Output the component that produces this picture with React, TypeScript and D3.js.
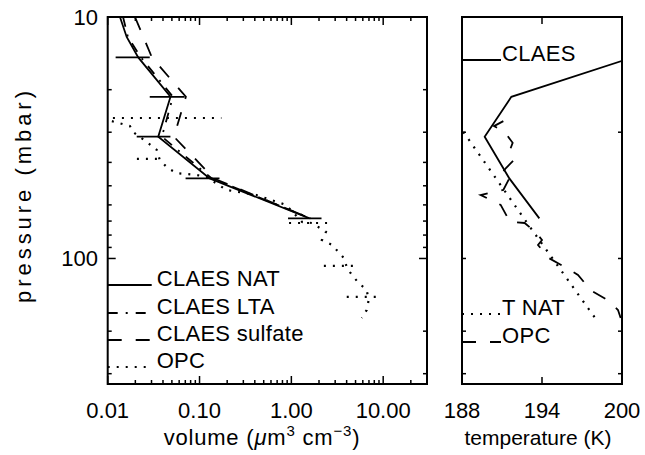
import React from "react";
import * as d3 from "d3";

// CLAES retrievals, pressure levels in mbar
const claesP = [10, 12.1, 14.7, 21.4, 31.3, 46.6, 68.2];
const natVol = [0.0136, 0.0161, 0.0215, 0.0483, 0.0355, 0.129, 1.58];
const ltaVol = [0.0147, 0.0166, 0.023, 0.0513, 0.0389, 0.136, 1.62];
const sulfateVol = [0.0198, 0.0245, 0.0303, 0.071, 0.0526, 0.143, 1.6];

// NAT error bars
const barP = [14.7, 21.4, 31.3, 46.6, 68.2];
const barLo = [0.0122, 0.0287, 0.0207, 0.0705, 0.92];
const barHi = [0.0287, 0.0687, 0.0482, 0.165, 2.13];

// OPC profile
const opcP = [27.0, 28.3, 29.9, 33.2, 35.5, 39.1, 42.2, 44.3, 45.1, 46.0, 52.0, 54.6, 60.0, 70.6, 71.3, 77.6, 83.8, 87.9, 99.5, 108.4, 117, 126.3, 135, 148.5, 163.4, 176.4];
const opcVol = [0.0111, 0.0175, 0.0188, 0.0274, 0.0342, 0.0369, 0.045, 0.0563, 0.0928, 0.119, 0.196, 0.415, 0.876, 1.31, 1.68, 2.38, 2.15, 2.77, 3.72, 4.01, 4.55, 5.41, 6.61, 6.95, 6.61, 5.85];
const opcT = [191.1, 190.4, 191.2, 191.8, 191.6, 191.9, 191.3, 191.0, 191.2, 191.6, 191.1, 189.4, 190.9, 191.6, 192.7, 193.5, 194.0, 193.7, 194.5, 195.7, 196.7, 197.2, 197.6, 198.9, 199.7, 199.9];
const opcBarP = [26.2, 38.7, 71.3, 107.4, 144.2];
const opcBarLo = [0.0114, 0.0208, 0.944, 2.26, 4.01];
const opcBarHi = [0.173, 0.0388, 2.76, 5.15, 9.38];

// temperatures
const claesTP = [14.7, 21.4, 31.3, 46.6, 68.2];
const claesT = [200.8, 191.7, 189.7, 191.55, 193.8];
const tnatP = [29.9, 71.5, 176.9];
const tnatT = [188.1, 192.9, 198.0];

const volTicks = [0.01, 0.1, 1, 10];
const volLabels = ["0.01", "0.10", "1.00", "10.00"];
const tTicks = [188, 194, 200];
const pLabels = [10, 100];

const leftLegend = ["CLAES NAT", "CLAES LTA", "CLAES sulfate", "OPC"];
const rightLegend = ["CLAES", "T NAT", "OPC"];

const FONT = "'Liberation Sans', Arial, Helvetica, sans-serif";
const DOT = "2,7";
const DASH = "14,14";
const DASHDOT = "10,8,2,8";

const left = { x0: 107.7, x1: 427, y0: 17, y1: 384 };
const right = { x0: 462, x1: 622, y0: 17, y1: 384 };

export default function App() {
  const y = d3.scaleLog().domain([10, 331]).range([left.y0, left.y1]);
  const x = d3.scaleLog().domain([0.01, 30]).range([left.x0, left.x1]);
  const t = d3.scaleLinear().domain([188, 200]).range([right.x0, right.x1]);

  const lineV = d3.line<[number, number]>().x((d) => x(d[0])).y((d) => y(d[1]));
  const lineT = d3.line<[number, number]>().x((d) => t(d[0])).y((d) => y(d[1]));
  const zip = (a: number[], b: number[]) => a.map((v, i) => [v, b[i]] as [number, number]);

  // minor log ticks
  const xMinor: number[] = [];
  [0.01, 0.1, 1, 10].forEach((d) => {
    for (let k = 2; k <= 9; k++) if (d * k <= 30) xMinor.push(d * k);
  });
  const pMinor: number[] = [];
  [10, 100].forEach((d) => {
    for (let k = 2; k <= 9; k++) if (d * k <= 331) pMinor.push(d * k);
  });

  const curves = [
    { v: natVol, dash: null },
    { v: ltaVol, dash: DASHDOT },
    { v: sulfateVol, dash: DASH },
  ];

  const legendY = [285, 313, 340, 367];
  const legendDash = [null, DASHDOT, DASH, DOT];
  const rLegendY = [60, 314, 342];
  const rLegendDash = [null, DOT, DASH];

  return (
    <svg width={645} height={455} style={{ position: "absolute", left: 0, top: 0, background: "#fff" }} fontFamily={FONT}>
      <defs>
        <clipPath id="clipL"><rect x={left.x0} y={left.y0} width={left.x1 - left.x0} height={left.y1 - left.y0} /></clipPath>
        <clipPath id="clipR"><rect x={right.x0} y={right.y0} width={right.x1 - right.x0} height={right.y1 - right.y0} /></clipPath>
      </defs>

      {/* left panel */}
      <g stroke="#000" fill="none">
        <rect x={left.x0} y={left.y0} width={left.x1 - left.x0} height={left.y1 - left.y0} strokeWidth={2} />
        {volTicks.map((v) => (
          <g key={"xm" + v}>
            <line x1={x(v)} x2={x(v)} y1={left.y1} y2={left.y1 - 8} strokeWidth={1.5} />
            <line x1={x(v)} x2={x(v)} y1={left.y0} y2={left.y0 + 8} strokeWidth={1.5} />
          </g>
        ))}
        {xMinor.map((v) => (
          <g key={"xn" + v}>
            <line x1={x(v)} x2={x(v)} y1={left.y1} y2={left.y1 - 4} strokeWidth={1.5} />
            <line x1={x(v)} x2={x(v)} y1={left.y0} y2={left.y0 + 4} strokeWidth={1.5} />
          </g>
        ))}
        {pMinor.map((p) => (
          <g key={"pn" + p}>
            <line x1={left.x0} x2={left.x0 + 4} y1={y(p)} y2={y(p)} strokeWidth={1.5} />
            <line x1={left.x1} x2={left.x1 - 4} y1={y(p)} y2={y(p)} strokeWidth={1.5} />
          </g>
        ))}
        <line x1={left.x0} x2={left.x0 + 8} y1={y(100)} y2={y(100)} strokeWidth={1.5} />
        <line x1={left.x1} x2={left.x1 - 8} y1={y(100)} y2={y(100)} strokeWidth={1.5} />

        <g clipPath="url(#clipL)" strokeWidth={1.8}>
          {curves.map((c, i) => (
            <path key={i} d={lineV(zip(c.v, claesP)) || ""} strokeDasharray={c.dash || undefined} />
          ))}
          {barP.map((p, i) => (
            <line key={"b" + i} x1={x(barLo[i])} x2={x(barHi[i])} y1={y(p)} y2={y(p)} />
          ))}
          <path d={lineV(zip(opcVol, opcP)) || ""} strokeDasharray={DOT} strokeWidth={2.2} />
          {opcBarP.map((p, i) => (
            <line key={"ob" + i} x1={x(opcBarLo[i])} x2={x(opcBarHi[i])} y1={y(p)} y2={y(p)} strokeDasharray={DOT} strokeWidth={2.2} />
          ))}
          {leftLegend.map((_, i) => (
            <line key={"ll" + i} x1={left.x0} x2={left.x0 + 44} y1={legendY[i]} y2={legendY[i]} strokeDasharray={legendDash[i] || undefined} strokeWidth={legendDash[i] === DOT ? 2.2 : 1.8} />
          ))}
        </g>
      </g>

      {/* right panel */}
      <g stroke="#000" fill="none">
        <rect x={right.x0} y={right.y0} width={right.x1 - right.x0} height={right.y1 - right.y0} strokeWidth={2} />
        <line x1={t(194)} x2={t(194)} y1={right.y0} y2={right.y0 + 7} strokeWidth={1.5} />
        <line x1={t(194)} x2={t(194)} y1={right.y1} y2={right.y1 - 7} strokeWidth={1.5} />
        {[30, 100, 200, 300].map((p) => (
          <g key={"rp" + p}>
            <line x1={right.x0} x2={right.x0 + 4} y1={y(p)} y2={y(p)} strokeWidth={1.5} />
            <line x1={right.x1} x2={right.x1 - 4} y1={y(p)} y2={y(p)} strokeWidth={1.5} />
          </g>
        ))}
        <g clipPath="url(#clipR)" strokeWidth={1.8}>
          <path d={lineT(zip(claesT, claesTP)) || ""} />
          <path d={lineT(zip(tnatT, tnatP)) || ""} strokeDasharray={DOT} strokeWidth={2.2} />
          <path d={lineT(zip(opcT, opcP)) || ""} strokeDasharray={DASH} />
          {rightLegend.map((_, i) => (
            <line key={"rl" + i} x1={right.x0} x2={right.x0 + 39} y1={rLegendY[i]} y2={rLegendY[i]} strokeDasharray={rLegendDash[i] || undefined} strokeWidth={rLegendDash[i] === DOT ? 2.2 : 1.8} />
          ))}
        </g>
      </g>

      {/* text */}
      <g fontSize={22} fill="#000">
        {leftLegend.map((s, i) => (
          <text key={s} x={left.x0 + 49} y={legendY[i] + 1} letterSpacing={0.3}>{s}</text>
        ))}
        {rightLegend.map((s, i) => (
          <text key={s} x={right.x0 + 40} y={rLegendY[i] + 1} letterSpacing={0.3}>{s}</text>
        ))}
        {volTicks.map((v, i) => (
          <text key={"xl" + v} x={x(v)} y={418} textAnchor="middle">{volLabels[i]}</text>
        ))}
        {tTicks.map((v) => (
          <text key={"tl" + v} x={t(v)} y={418} textAnchor="middle">{v}</text>
        ))}
        {pLabels.map((p) => (
          <text key={"pl" + p} x={98} y={y(p) + 8} textAnchor="end">{p}</text>
        ))}
        <text x={262} y={445} textAnchor="middle" letterSpacing={0.8}>
          volume (<tspan fontStyle="italic">μ</tspan>m<tspan dy={-9} fontSize={15}>3</tspan>
          <tspan dy={9}> cm</tspan><tspan dy={-9} fontSize={15}>−3</tspan><tspan dy={9}>)</tspan>
        </text>
        <text x={538} y={445} textAnchor="middle" fontSize={21}>temperature (K)</text>
        <text transform="translate(31,197) rotate(-90)" textAnchor="middle" textLength={212} lengthAdjust="spacing">pressure (mbar)</text>
      </g>
    </svg>
  );
}
